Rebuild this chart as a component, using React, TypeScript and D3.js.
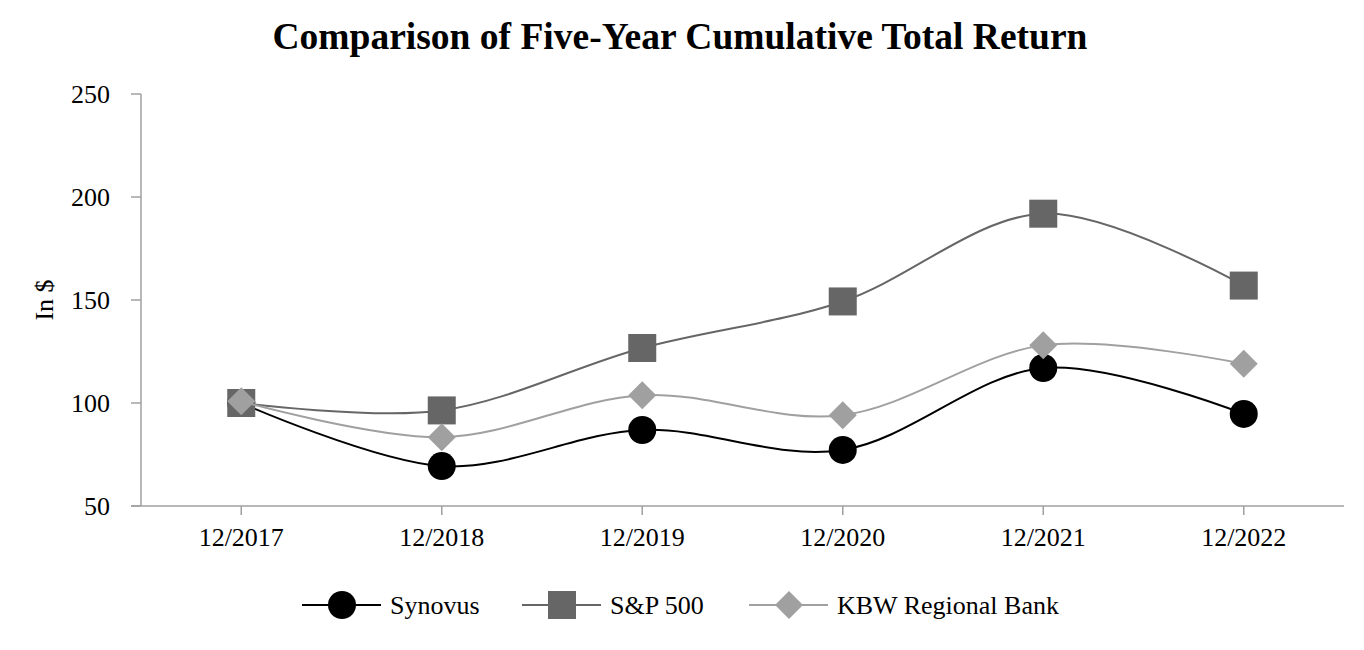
import React from "react";
import * as d3 from "d3";

const categories = ["12/2017", "12/2018", "12/2019", "12/2020", "12/2021", "12/2022"];
const synovus = [100, 69.4, 86.9, 77.2, 117.0, 94.7];
const sp500 = [100, 96.4, 126.7, 149.3, 191.9, 157.0];
const kbw = [100.8, 83.4, 103.8, 94.1, 128.0, 119.0];
const yTicks = [50, 100, 150, 200, 250];

const W = 1364, H = 650;
const left = 141, right = 1344, top = 94, bottom = 506;
const FS = 26;

export default function App() {
  const x = d3.scaleBand<string>().domain(categories).range([left, right]);
  const cx = (c: string) => (x(c) as number) + x.bandwidth() / 2;
  const y = d3.scaleLinear().domain([50, 250]).range([bottom, top]);
  const line = d3
    .line<number>()
    .x((_, i) => cx(categories[i]))
    .y((d) => y(d))
    .curve(d3.curveCatmullRom.alpha(0));

  const series = [
    { name: "Synovus", data: synovus, color: "#000000", marker: "circle", mcolor: "#000000" },
    { name: "S&P 500", data: sp500, color: "#666666", marker: "square", mcolor: "#666666" },
    { name: "KBW Regional Bank", data: kbw, color: "#a0a0a0", marker: "diamond", mcolor: "#a0a0a0" },
  ];

  const marker = (type: string, px: number, py: number, color: string, key: any) => {
    if (type === "circle") return <circle key={key} cx={px} cy={py} r={14} fill={color} />;
    if (type === "square") return <rect key={key} x={px - 14} y={py - 14} width={28} height={28} fill={color} />;
    return (
      <path key={key} d={`M${px},${py - 14}L${px + 14},${py}L${px},${py + 14}L${px - 14},${py}Z`} fill={color} />
    );
  };

  const legendItems = [
    { s: series[0], lx: 302, tx: 390 },
    { s: series[1], lx: 522, tx: 610 },
    { s: series[2], lx: 749, tx: 837 },
  ];
  const ly = 605;

  return (
    <svg width={W} height={H} style={{ display: "block", position: "absolute", left: 0, top: 0 }} fontFamily="'Liberation Serif', 'Times New Roman', serif">
      <rect width={W} height={H} fill="#fff" />
      <text x={680} y={49} textAnchor="middle" fontSize={37.5} fontWeight="bold" fill="#000">
        Comparison of Five-Year Cumulative Total Return
      </text>
      {/* axes */}
      <line x1={left} x2={left} y1={top} y2={bottom} stroke="#a0a0a0" strokeWidth={1.5} />
      <line x1={131} x2={right} y1={bottom} y2={bottom} stroke="#a0a0a0" strokeWidth={1.5} />
      {yTicks.map((t) => (
        <g key={t}>
          <line x1={131} x2={left} y1={y(t)} y2={y(t)} stroke="#a0a0a0" strokeWidth={1.5} />
          <text x={110} y={y(t) + 9} textAnchor="end" fontSize={FS} fill="#000">
            {t}
          </text>
        </g>
      ))}
      {categories.map((c) => (
        <g key={c}>
          <line x1={cx(c)} x2={cx(c)} y1={bottom} y2={bottom + 9} stroke="#a0a0a0" strokeWidth={1.5} />
          <text x={cx(c)} y={546} textAnchor="middle" fontSize={FS} fill="#000">
            {c}
          </text>
        </g>
      ))}
      <text transform={`translate(53,${300}) rotate(-90)`} textAnchor="middle" fontSize={FS} fill="#000">
        In $
      </text>
      {/* series */}
      {series.map((s) => (
        <g key={s.name}>
          <path d={line(s.data) as string} fill="none" stroke={s.color} strokeWidth={2} />
          {s.data.map((v, i) => marker(s.marker, cx(categories[i]), y(v), s.mcolor, i))}
        </g>
      ))}
      {/* legend */}
      {legendItems.map(({ s, lx, tx }) => (
        <g key={s.name}>
          <line x1={lx} x2={lx + 79} y1={ly} y2={ly} stroke={s.color} strokeWidth={2} />
          {marker(s.marker, lx + 40, ly, s.mcolor, "m")}
          <text x={tx} y={ly + 9} fontSize={FS} fill="#000">
            {s.name}
          </text>
        </g>
      ))}
    </svg>
  );
}
